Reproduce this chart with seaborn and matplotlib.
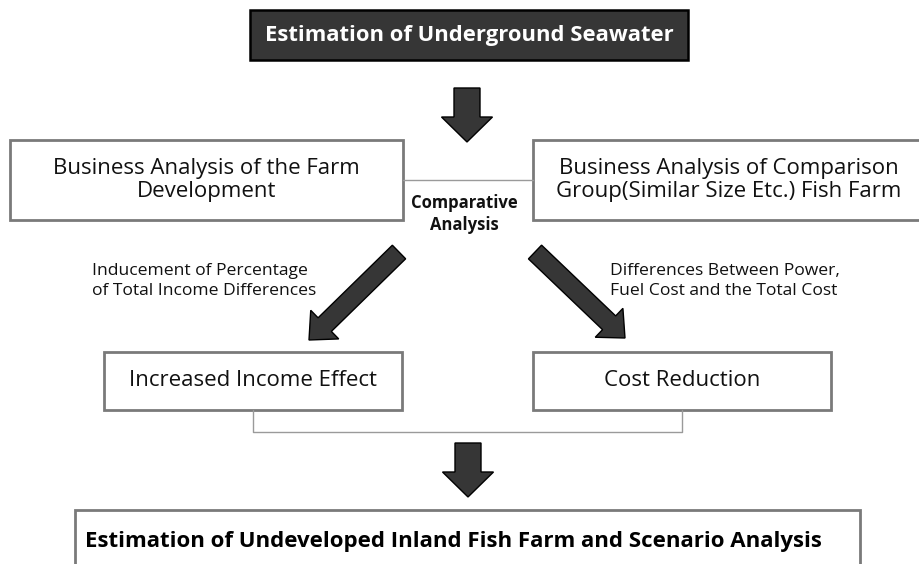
"""
Flow diagram: estimation of underground seawater effect on inland fish farms.
"""

import matplotlib
matplotlib.use("Agg")
import matplotlib.pyplot as plt
from matplotlib.patches import Rectangle, FancyArrow
import seaborn as sns

sns.set_theme(style="white")
plt.rcParams["font.family"] = ["Open Sans", "DejaVu Sans"]

# Diagram content
TOP_LABEL = "Estimation of Underground Seawater"
BOTTOM_LABEL = "Estimation of Undeveloped Inland Fish Farm and Scenario Analysis"
MID_LABELS = [
    "Business Analysis of the Farm\nDevelopment",
    "Business Analysis of Comparison\nGroup(Similar Size Etc.) Fish Farm",
]
LINK_LABEL = "Comparative\nAnalysis"
RESULT_LABELS = ["Increased Income Effect", "Cost Reduction"]
ARROW_NOTES = [
    "Inducement of Percentage\nof Total Income Differences",
    "Differences Between Power,\nFuel Cost and the Total Cost",
]

# Layout (pixel space, y downward)
top_box = (250, 10, 438, 50)
mid_boxes = [(10, 140, 393, 80), (533, 140, 392, 80)]
result_boxes = [(104, 352, 298, 58), (533, 352, 298, 58)]
bottom_box = (75, 510, 785, 70)
down_arrows = [(467, 88, 142), (468, 443, 497)]
diag_arrows = [((399, 252), (309, 340)), ((535, 252), (625, 338))]
note_pos = [(92, 281), (610, 281)]

DARK = "#363636"
EDGE = "#7a7a7a"
LINE = "#9a9a9a"

fig = plt.figure(figsize=(9.2, 5.64), dpi=100)
ax = fig.add_axes([0, 0, 1, 1])
ax.set_xlim(0, 920)
ax.set_ylim(564, 0)
ax.axis("off")

# Top dark box
x, y, w, h = top_box
ax.add_patch(Rectangle((x, y), w, h, facecolor=DARK, edgecolor="black", lw=1.8))
ax.text(x + w / 2, y + h / 2, TOP_LABEL, color="white", fontsize=15.8,
        fontweight="bold", ha="center", va="center")

# Middle boxes with connecting line
for (x, y, w, h), label in zip(mid_boxes, MID_LABELS):
    ax.add_patch(Rectangle((x, y), w, h, facecolor="white", edgecolor=EDGE, lw=2))
    ax.text(x + w / 2, y + h / 2, label, fontsize=16, ha="center", va="center",
            color="#111111", linespacing=1.12)
left, right = mid_boxes
ax.plot([left[0] + left[2], right[0]], [180, 180], color=LINE, lw=1)
ax.text(464, 214, LINK_LABEL, fontsize=12, fontweight="bold",
        ha="center", va="center", color="#111111", linespacing=1.3)

# Result boxes with bracket
for (x, y, w, h), label in zip(result_boxes, RESULT_LABELS):
    ax.add_patch(Rectangle((x, y), w, h, facecolor="white", edgecolor=EDGE, lw=2))
    ax.text(x + w / 2, y + h / 2, label, fontsize=16, ha="center", va="center",
            color="#111111")
ax.plot([253, 253, 682, 682], [410, 432, 432, 410], color=LINE, lw=1)

# Notes beside diagonal arrows
for (tx, ty), note in zip(note_pos, ARROW_NOTES):
    ax.text(tx, ty, note, fontsize=12.6, ha="left", va="center",
            color="#111111", linespacing=1.3)

# Bottom box (runs off the lower edge)
x, y, w, h = bottom_box
ax.add_patch(Rectangle((x, y), w, h, facecolor="white", edgecolor=EDGE, lw=2))
ax.text(x + w / 2 - 14, 541, BOTTOM_LABEL, fontsize=16, fontweight="bold",
        ha="center", va="center", color="black")

# Block arrows
for cx, y0, y1 in down_arrows:
    ax.add_patch(FancyArrow(cx, y0, 0, y1 - y0, width=26, head_width=51,
                            head_length=25, length_includes_head=True,
                            facecolor=DARK, edgecolor="black", lw=1))
for (x0, y0), (x1, y1) in diag_arrows:
    ax.add_patch(FancyArrow(x0, y0, x1 - x0, y1 - y0, width=19, head_width=40,
                            head_length=22, length_includes_head=True,
                            facecolor=DARK, edgecolor="black", lw=1))

fig.savefig("out.png", dpi=100, facecolor="white")
plt.close(fig)
